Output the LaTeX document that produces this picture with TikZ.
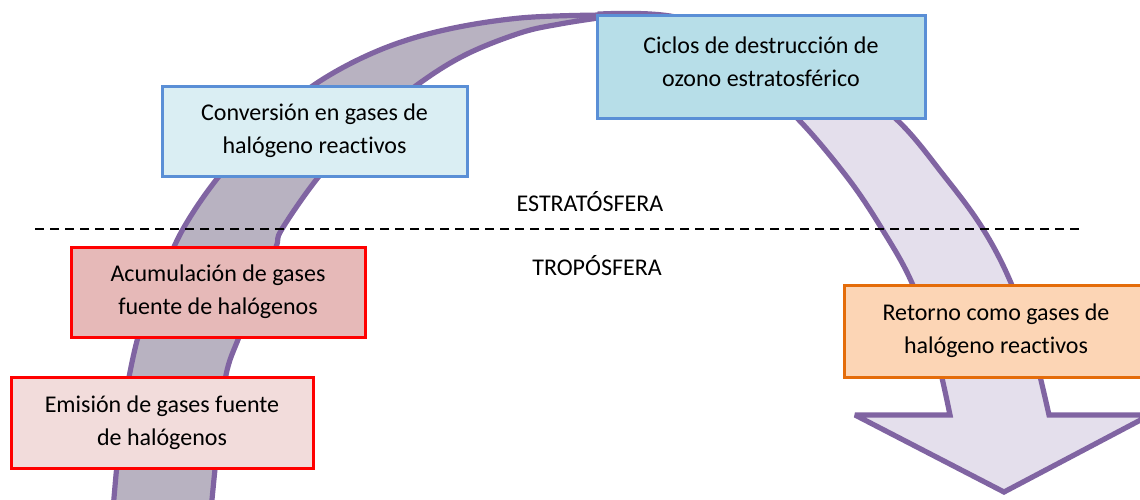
\documentclass[tikz,border=0pt]{standalone}
\usepackage{fontspec}
\setmainfont{Carlito}[Ligatures=NoCommon]
\definecolor{bandline}{HTML}{8064A2}
\definecolor{leftfill}{HTML}{B8B2C1}
\definecolor{rightfill}{HTML}{E4DFEC}
\definecolor{blueline}{HTML}{5A8FD6}
\definecolor{redline}{HTML}{FF0000}
\definecolor{orangeline}{HTML}{E46C0A}
\definecolor{convfill}{HTML}{DAEEF3}
\definecolor{cicfill}{HTML}{B7DEE8}
\definecolor{acufill}{HTML}{E6B9B8}
\definecolor{emifill}{HTML}{F2DCDB}
\definecolor{retfill}{HTML}{FCD5B5}
\begin{document}
\begin{tikzpicture}[x=0.5pt,y=-0.5pt,
  band/.style={draw=bandline, line width=2.6pt, line join=miter, miter limit=3},
  stagebox/.style={draw, line width=1.5pt, align=center, inner sep=0pt,
    font=\fontsize{12}{16.5}\selectfont},
  layerlabel/.style={font=\fontsize{12}{14}\selectfont, inner sep=0pt},
  divider/.style={line width=1pt, dash pattern=on 4.7pt off 2.8pt}]
\useasboundingbox (0,0) rectangle (1140,499);
\clip (0,0) rectangle (1140,499);

% left (rising) part of the curved arrow
\path[band, fill=leftfill]
  plot[smooth, tension=0.6] coordinates {(113,510) (122,420) (138,337) (160,281) (183,229)
     (220,175) (265,127) (314,85) (375,52) (440,31) (520,18) (605,15)}
  -- plot[smooth, tension=0.6] coordinates {(605,17) (560,24) (520,33) (465,55) (417,85)
     (365,127) (320,175) (282,229) (276,247) (258,290) (239,337) (226,375) (218,440) (211,510)}
  -- cycle;

% right (descending) part of the curved arrow with its head
\path[band, fill=rightfill]
  plot[smooth, tension=0.6] coordinates {(600,14) (670,16) (760,40) (830,72) (895,118)
     (945,177) (983,229) (1011,283) (1032,345) (1049,415)}
  -- (1150,415) -- (1004,492) -- (855,415) -- (950,415)
  -- plot[smooth, tension=0.6] coordinates {(950,415) (935,350) (912,283) (882,229)
     (847,177) (797,118) (750,78) (690,45) (630,25) (600,16)}
  -- cycle;

% boundary between layers
\coordinate (dl) at (35,229);
\coordinate (dr) at (1080,229);
\draw[divider] (dl) -- (dr);
\node[layerlabel] (estrato) at (590,202) {ESTRATÓSFERA};
\node[layerlabel] (tropo) at (597,266) {TROPÓSFERA};

% stage boxes
\node[stagebox, draw=blueline, fill=convfill, minimum width=152.5pt, minimum height=45pt]
  (conv) at (314.5,131) {Conversión en gases de\\halógeno reactivos};
\node[stagebox, draw=blueline, fill=cicfill, minimum width=164pt, minimum height=51.5pt,
  text depth=5pt]
  (cic) at (761,66.5) {Ciclos de destrucción de\\ozono estratosférico};
\node[stagebox, draw=redline, fill=acufill, minimum width=147pt, minimum height=45pt]
  (acu) at (218,292) {Acumulación de gases\\fuente de halógenos};
\node[stagebox, draw=redline, fill=emifill, minimum width=151pt, minimum height=45.5pt]
  (emi) at (162,422.5) {Emisión de gases fuente\\de halógenos};
\node[stagebox, draw=orangeline, fill=retfill, minimum width=152pt, minimum height=46pt]
  (ret) at (996,331) {Retorno como gases de\\halógeno reactivos};
\end{tikzpicture}
\end{document}
